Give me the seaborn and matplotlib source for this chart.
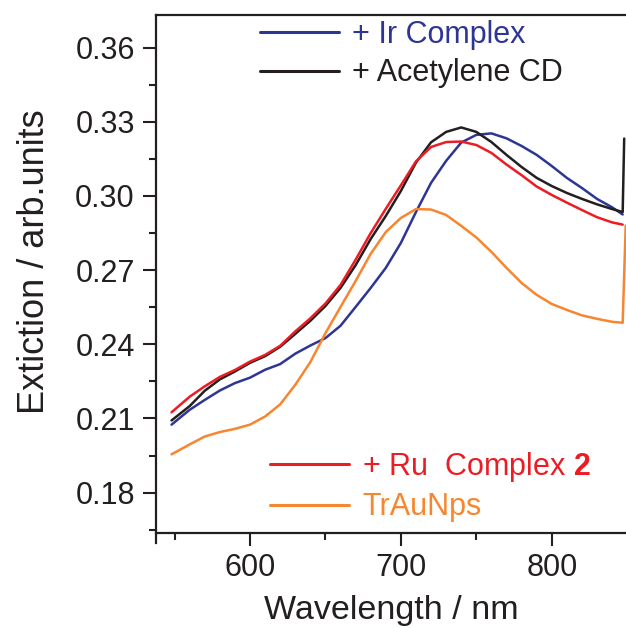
import matplotlib
matplotlib.use("Agg")
import matplotlib.pyplot as plt
import seaborn as sns
import pandas as pd
from matplotlib.lines import Line2D
from matplotlib.ticker import MultipleLocator, FormatStrFormatter

# Extinction spectra of triangular gold nanoprisms and their conjugates
wavelength = [548, 560, 570, 580, 590, 600, 610, 620, 630, 640,
              650, 660, 670, 680, 690, 700, 710, 720, 730, 740,
              750, 760, 770, 780, 790, 800, 810, 820, 830, 840, 847]

ir_complex = [0.2075, 0.2135, 0.2175, 0.2213, 0.2243, 0.2265, 0.2297, 0.2320, 0.2362, 0.2395,
              0.2425, 0.2475, 0.2551, 0.2628, 0.2709, 0.2810, 0.2935, 0.3053, 0.3142, 0.3216,
              0.3247, 0.3253, 0.3233, 0.3202, 0.3166, 0.3121, 0.3073, 0.3032, 0.2988, 0.2954, 0.2925]

acetylene_cd = [0.2092, 0.2150, 0.2212, 0.2258, 0.2290, 0.2325, 0.2352, 0.2390, 0.2442, 0.2495,
                0.2555, 0.2628, 0.2720, 0.2826, 0.2919, 0.3020, 0.3135, 0.3217, 0.3259, 0.3277,
                0.3259, 0.3218, 0.3166, 0.3117, 0.3073, 0.3040, 0.3012, 0.2988, 0.2966, 0.2947, 0.2935]

ru_complex = [0.2125, 0.2188, 0.2230, 0.2268, 0.2296, 0.2330, 0.2357, 0.2394, 0.2452, 0.2505,
              0.2565, 0.2640, 0.2742, 0.2850, 0.2948, 0.3043, 0.3140, 0.3198, 0.3218, 0.3220,
              0.3206, 0.3174, 0.3127, 0.3084, 0.3038, 0.3004, 0.2973, 0.2943, 0.2914, 0.2893, 0.2884]

traunps = [0.1955, 0.1995, 0.2027, 0.2045, 0.2058, 0.2075, 0.2108, 0.2157, 0.2236, 0.2328,
           0.2445, 0.2551, 0.2656, 0.2766, 0.2854, 0.2911, 0.2947, 0.2945, 0.2923, 0.2879,
           0.2832, 0.2774, 0.2709, 0.2648, 0.2600, 0.2563, 0.2539, 0.2517, 0.2503, 0.2491, 0.2487]

# detector-change step at the long-wavelength end of the scan
acetylene_tail_nm = [848.0]
acetylene_tail = [0.3232]
traunps_tail_nm = [849.0]
traunps_tail = [0.2880]

labels = ["+ Ir Complex", "+ Acetylene CD", "+ Ru  Complex $\\mathbf{2}$", "TrAuNps"]
colors = ["#2D3694", "#231F20", "#EC1C24", "#F7862F"]

y_ticks = [0.18, 0.21, 0.24, 0.27, 0.30, 0.33, 0.36]
x_ticks = [600, 700, 800]

frames = [
    pd.DataFrame({"wavelength": wavelength, "extinction": ir_complex, "sample": labels[0]}),
    pd.DataFrame({"wavelength": wavelength + acetylene_tail_nm,
                  "extinction": acetylene_cd + acetylene_tail, "sample": labels[1]}),
    pd.DataFrame({"wavelength": wavelength, "extinction": ru_complex, "sample": labels[2]}),
    pd.DataFrame({"wavelength": wavelength + traunps_tail_nm,
                  "extinction": traunps + traunps_tail, "sample": labels[3]}),
]
df = pd.concat(frames, ignore_index=True)

sns.set_style("ticks")
plt.rcParams["font.family"] = ["Liberation Sans", "DejaVu Sans"]
plt.rcParams["mathtext.fontset"] = "custom"
plt.rcParams["mathtext.rm"] = "Liberation Sans"
plt.rcParams["mathtext.bf"] = "Liberation Sans:bold"

fig = plt.figure(figsize=(6.26, 6.28), dpi=100)
ax = fig.add_axes([155.7 / 626, (628 - 532.7) / 628, 1 - 155.7 / 626, (532.7 - 14.7) / 628])

palette = dict(zip(labels, colors))
sns.lineplot(data=df, x="wavelength", y="extinction", hue="sample", hue_order=labels,
             palette=palette, estimator=None, sort=False, linewidth=1.8, legend=False, ax=ax)

ax.set_xlim(537.5, 849.2)
ax.set_ylim(0.1638, 0.3733)
ax.set_xticks(x_ticks)
ax.set_yticks(y_ticks)
ax.xaxis.set_minor_locator(MultipleLocator(50))
ax.yaxis.set_minor_locator(MultipleLocator(0.015))
ax.yaxis.set_major_formatter(FormatStrFormatter("%.2f"))

ax.spines["right"].set_visible(False)
for side in ["left", "bottom", "top"]:
    ax.spines[side].set_linewidth(1.6)
    ax.spines[side].set_color("#231F20")
ax.spines["left"].set_bounds(0.1598, 0.3733)

ax.tick_params(axis="both", which="major", direction="out", length=9.5, width=1.5,
               labelsize=22, color="#231F20", labelcolor="#231F20")
ax.tick_params(axis="both", which="minor", direction="out", length=5, width=1.5, color="#231F20")
ax.tick_params(axis="y", which="major", pad=5.5)
ax.tick_params(axis="x", which="major", pad=5)

ax.set_xlabel("Wavelength / nm", fontsize=24.5, labelpad=9, color="#231F20")
ax.set_ylabel("Extiction / arb.units", fontsize=26, color="#231F20")
ax.yaxis.set_label_coords(-0.2196, 0.5236)

def make_legend(idx, anchor):
    handles = [Line2D([], [], color=colors[i], linewidth=2.2) for i in idx]
    leg = ax.legend(handles, [labels[i] for i in idx], loc="upper left",
                    bbox_to_anchor=anchor, bbox_transform=fig.transFigure,
                    frameon=False, fontsize=22, handlelength=2.6, handletextpad=0.42,
                    labelspacing=0.27, borderpad=0, borderaxespad=0,
                    labelcolor=[colors[i] for i in idx])
    return leg

top_leg = make_legend([0, 1], (260 / 626, 1 - 20 / 628))
ax.add_artist(top_leg)
make_legend([2, 3], (270 / 626, 1 - 450 / 628))

fig.savefig("out.png", dpi=100)
